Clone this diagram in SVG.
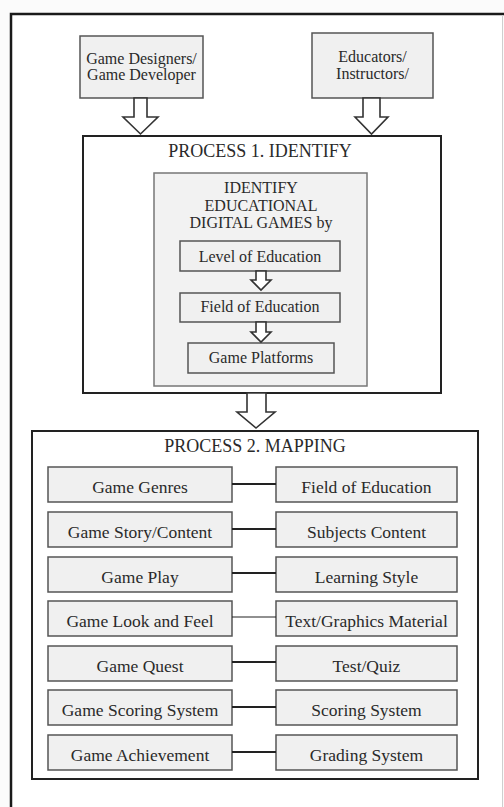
<svg xmlns="http://www.w3.org/2000/svg" width="504" height="807" viewBox="0 0 504 807">
<style>
  text { font-family: "Liberation Serif", "Times New Roman", serif; fill: #2a2a2a; text-anchor: middle; }
  .t16 { font-size: 16px; }
  .t18 { font-size: 18px; }
  .t175 { font-size: 17.5px; }
  .box { fill: #f0f0f0; stroke: #555; stroke-width: 1.5; }
  .proc { fill: #ffffff; stroke: #222; stroke-width: 2; }
  .inner { fill: #f2f2f2; stroke: #777; stroke-width: 1.5; }
  .barrow { fill: #ffffff; stroke: #333; stroke-width: 1.6; stroke-linejoin: miter; }
  .link { stroke: #222; stroke-width: 1.8; }
</style>
<rect width="504" height="807" fill="#fbfbfb"/>
<rect x="11" y="14" width="491" height="793" fill="#ffffff"/>
<!-- outer frame -->
<path d="M11,807 V14 H504" fill="none" stroke="#1a1a1a" stroke-width="2.5"/>
<line x1="502.5" y1="15" x2="502.5" y2="807" stroke="#cfcfcf" stroke-width="1"/>

<g id="game-designers">
  <rect class="box" x="80" y="36" width="123" height="62"/>
  <text class="t16" x="141.5" y="64">Game Designers/</text>
  <text class="t16" x="141.5" y="80">Game Developer</text>
</g>
<g id="educators">
  <rect class="box" x="312" y="33" width="121" height="65"/>
  <text class="t16" x="372.5" y="62">Educators/</text>
  <text class="t16" x="372.5" y="79">Instructors/</text>
</g>

<g id="process1">
  <rect class="proc" x="83" y="136" width="358" height="257"/>
  <text class="t18" x="260" y="157">PROCESS 1. IDENTIFY</text>
  <g id="identify-games">
    <rect class="inner" x="154" y="173" width="213" height="213"/>
    <text class="t16" x="261" y="193">IDENTIFY</text>
    <text class="t16" x="261" y="211">EDUCATIONAL</text>
    <text class="t16" x="261" y="228">DIGITAL GAMES by</text>
  </g>
  <g id="level-of-education">
    <rect class="box" x="180" y="241" width="160" height="30"/>
    <text class="t16" x="260" y="262">Level of Education</text>
  </g>
  <g id="field-of-education-1">
    <rect class="box" x="180" y="293" width="160" height="29"/>
    <text class="t16" x="260" y="312">Field of Education</text>
  </g>
  <g id="game-platforms">
    <rect class="box" x="188" y="343" width="146" height="30"/>
    <text class="t16" x="261" y="363">Game Platforms</text>
  </g>
</g>

<g id="process2">
  <rect class="proc" x="32" y="431" width="446" height="348"/>
  <text class="t18" x="255" y="452">PROCESS 2. MAPPING</text>
  <g id="m-left">
    <g id="game-genres"><rect class="box" x="48" y="467" width="184" height="35"/><text class="t175" x="140" y="493">Game Genres</text></g>
    <g id="game-story"><rect class="box" x="48" y="512" width="184" height="35"/><text class="t175" x="140" y="538">Game Story/Content</text></g>
    <g id="game-play"><rect class="box" x="48" y="557" width="184" height="35"/><text class="t175" x="140" y="583">Game Play</text></g>
    <g id="game-look"><rect class="box" x="48" y="601" width="184" height="35"/><text class="t175" x="140" y="627">Game Look and Feel</text></g>
    <g id="game-quest"><rect class="box" x="48" y="646" width="184" height="35"/><text class="t175" x="140" y="672">Game Quest</text></g>
    <g id="game-scoring"><rect class="box" x="48" y="690" width="184" height="35"/><text class="t175" x="140" y="716">Game Scoring System</text></g>
    <g id="game-achievement"><rect class="box" x="48" y="735" width="184" height="35"/><text class="t175" x="140" y="761">Game Achievement</text></g>
  </g>
  <g id="m-right">
    <g id="field-of-education-2"><rect class="box" x="276" y="467" width="181" height="35"/><text class="t175" x="366.5" y="493">Field of Education</text></g>
    <g id="subjects-content"><rect class="box" x="276" y="512" width="181" height="35"/><text class="t175" x="366.5" y="538">Subjects Content</text></g>
    <g id="learning-style"><rect class="box" x="276" y="557" width="181" height="35"/><text class="t175" x="366.5" y="583">Learning Style</text></g>
    <g id="text-graphics"><rect class="box" x="276" y="601" width="181" height="35"/><text class="t175" x="366.5" y="627">Text/Graphics Material</text></g>
    <g id="test-quiz"><rect class="box" x="276" y="646" width="181" height="35"/><text class="t175" x="366.5" y="672">Test/Quiz</text></g>
    <g id="scoring-system"><rect class="box" x="276" y="690" width="181" height="35"/><text class="t175" x="366.5" y="716">Scoring System</text></g>
    <g id="grading-system"><rect class="box" x="276" y="735" width="181" height="35"/><text class="t175" x="366.5" y="761">Grading System</text></g>
  </g>
</g>

<g id="connectors">
  <polygon class="barrow" points="134,98 147,98 147,117 158,117 140.5,134 123,117 134,117"/>
  <polygon class="barrow" points="363,98 380,98 380,117 388,117 371.5,134 355,117 363,117"/>
  <polygon class="barrow" points="256,271 266,271 266,280 271,280 261,290 251,280 256,280"/>
  <polygon class="barrow" points="256,322 266,322 266,332 271,332 261,342 251,332 256,332"/>
  <polygon class="barrow" points="247,393 266,393 266,412 275,412 256,428 237,412 247,412"/>
  <line class="link" x1="232" y1="484" x2="276" y2="484"/>
  <line class="link" x1="232" y1="529" x2="276" y2="529"/>
  <line class="link" x1="232" y1="573" x2="276" y2="573"/>
  <line class="link" x1="232" y1="617" x2="276" y2="617" style="stroke-width:1.2"/>
  <line class="link" x1="232" y1="662" x2="276" y2="662"/>
  <line class="link" x1="232" y1="707" x2="276" y2="707"/>
  <line class="link" x1="232" y1="752" x2="276" y2="752"/>
</g>
</svg>
